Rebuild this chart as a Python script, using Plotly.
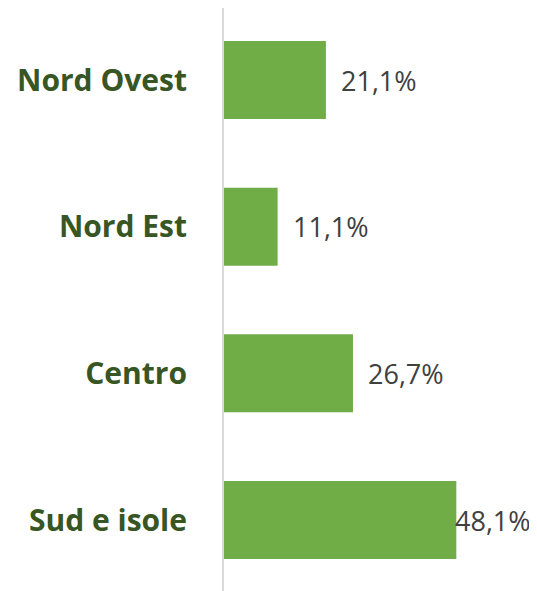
import plotly.graph_objects as go

categories = ["Nord Ovest", "Nord Est", "Centro", "Sud e isole"]
values = [21.1, 11.1, 26.7, 48.1]
value_labels = ["21,1%", "11,1%", "26,7%", "48,1%"]
label_shift = [13, 13, 13, -3]

fig = go.Figure()
fig.add_trace(go.Bar(
    y=categories, x=values, orientation="h",
    marker=dict(color="#70AD47", line=dict(width=0)),
    hoverinfo="skip",
))

for c, v, t, s in zip(categories, values, value_labels, label_shift):
    fig.add_annotation(x=v, y=c, text=t, showarrow=False, xanchor="left",
                       xshift=s, font=dict(family="Open Sans", size=27, color="#404040"))

fig.update_layout(
    width=529, height=583,
    margin=dict(l=216, r=0, t=0, b=0, pad=0),
    paper_bgcolor="white", plot_bgcolor="white",
    showlegend=False, bargap=0.468,
    xaxis=dict(range=[0, 64.8], visible=False, fixedrange=True),
    yaxis=dict(range=[3.484, -0.491], autorange=False, showline=True,
               linecolor="#D9D9D9", linewidth=2,
               showgrid=False, zeroline=False, ticks="", ticklabelstandoff=29,
               tickfont=dict(family="Open Sans", size=30, color="#375623", weight="bold")),
)
fig.write_html("out.html")
